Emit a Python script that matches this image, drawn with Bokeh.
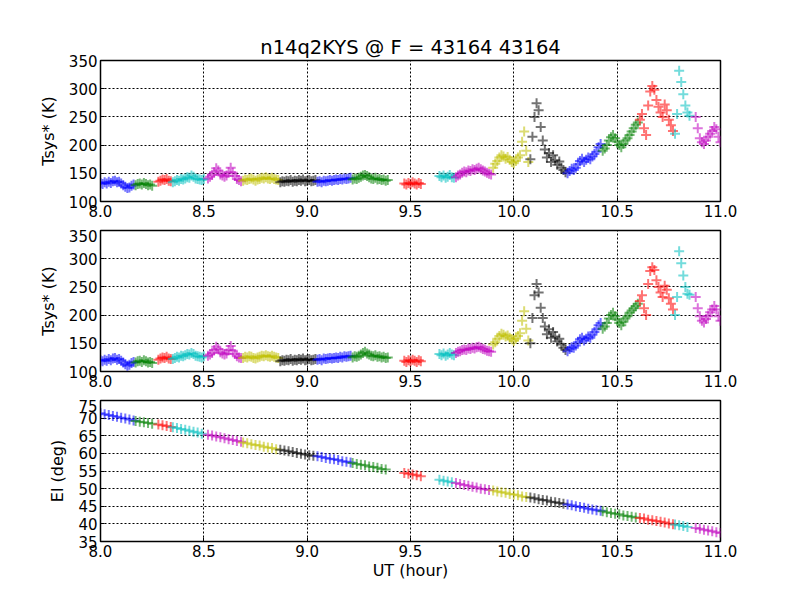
import numpy as np

import bokeh.models
import bokeh.plotting
from bokeh.layouts import column
from bokeh.embed import file_html
from bokeh.resources import INLINE

# matplotlib-classic colour cycle b g r c m y k
seg_colors = ["#0000ff", "#008000", "#ff0000", "#00bfbf", "#bf00bf", "#bfbf00", "#000000",
              "#0000ff", "#008000", "#ff0000", "#00bfbf", "#bf00bf", "#bfbf00", "#000000",
              "#0000ff", "#008000", "#ff0000", "#00bfbf", "#bf00bf"]

# start time (UT hour) of each scan; samples every 0.01 h
seg_starts = [8.00, 8.17, 8.28, 8.35, 8.52, 8.69, 8.87, 9.05, 9.22, 9.47,
              9.64, 9.72, 9.90, 10.08, 10.26, 10.43, 10.61, 10.78, 10.88]
t_step = 0.01

# Tsys* (K), upper panel
tsys_top = [
    [133, 131, 134, 132, 135, 133, 136, 137, 134, 135, 132, 129, 126, 124, 125, 128, 130],
    [129, 131, 132, 130, 133, 131, 129, 130, 128],
    [135, 137, 139, 138, 140, 137, 136],
    [134, 136, 138, 137, 140, 139, 141, 143, 142, 146, 144, 141, 140, 139, 138, 140],
    [141, 144, 147, 152, 159, 155, 148, 146, 144, 146, 152, 160, 151, 145, 140, 138, 136],
    [137, 139, 138, 140, 141, 139, 137, 139, 140, 142, 141, 143, 141, 140, 142, 140, 139, 138],
    [134, 136, 135, 137, 136, 138, 135, 137, 136, 138, 137, 139, 136, 137, 138, 136, 137, 138],
    [135, 136, 134, 137, 136, 137, 138, 137, 138, 139, 138, 140, 139, 141, 140, 141, 142],
    [139, 141, 140, 142, 144, 146, 147, 145, 143, 141, 140, 142, 139, 140, 138, 139, 137, 138],
    [132, 130, 133, 131, 134, 132, 130, 133, 131],
    [145, 143, 146, 142, 144, 147, 143, 142],
    [143, 146, 148, 151, 153, 152, 155, 154, 157, 156, 158, 160, 157, 155, 153, 151, 149, 148],
    [160, 167, 172, 178, 182, 180, 176, 179, 174, 170, 168, 172, 178, 182, 206, 224, 190, 170],
    [175, 215, 250, 274, 262, 232, 208, 192, 178, 186, 170, 182, 173, 165, 171, 160, 156, 152],
    [150, 154, 158, 156, 160, 166, 172, 176, 170, 174, 178, 175, 180, 184, 188, 196, 202],
    [190, 194, 200, 208, 214, 218, 212, 206, 200, 196, 202, 208, 212, 218, 224, 230, 236, 240],
    [245, 255, 230, 218, 270, 295, 305, 298, 280, 268, 258, 250, 272, 262, 245, 235, 225],
    [220, 255, 332, 312, 290, 270, 258, 252],
    [250, 230, 212, 205, 202, 208, 215, 220, 225, 232, 228, 215, 205],
]

# Tsys* (K), middle panel
tsys_mid = [
    [120, 118, 121, 119, 122, 120, 123, 124, 121, 122, 119, 116, 113, 110, 112, 115, 117],
    [116, 118, 119, 117, 120, 118, 116, 117, 115],
    [121, 123, 125, 124, 126, 123, 122],
    [122, 124, 126, 125, 128, 127, 129, 131, 130, 133, 131, 128, 127, 126, 125, 127],
    [128, 130, 133, 138, 144, 140, 134, 132, 130, 132, 138, 145, 137, 131, 127, 125, 124],
    [124, 126, 125, 127, 126, 124, 123, 125, 126, 128, 127, 129, 127, 126, 128, 126, 125, 124],
    [118, 120, 119, 121, 120, 122, 119, 121, 120, 122, 121, 123, 120, 121, 122, 120, 121, 122],
    [121, 122, 120, 123, 122, 123, 124, 123, 124, 125, 124, 126, 125, 127, 126, 127, 128],
    [125, 127, 126, 128, 130, 133, 135, 132, 130, 128, 127, 129, 126, 127, 125, 126, 124, 125],
    [119, 117, 120, 118, 121, 119, 117, 120, 118],
    [131, 129, 132, 128, 130, 133, 130, 129],
    [133, 135, 136, 138, 139, 138, 141, 140, 142, 141, 143, 144, 142, 140, 139, 137, 136, 135],
    [148, 152, 158, 163, 167, 165, 162, 164, 160, 157, 154, 158, 163, 168, 190, 207, 176, 155],
    [150, 195, 235, 255, 240, 213, 195, 180, 166, 175, 160, 170, 162, 153, 158, 148, 142, 138],
    [136, 140, 143, 142, 146, 152, 157, 160, 155, 158, 162, 160, 165, 170, 175, 182, 186],
    [176, 180, 186, 194, 200, 204, 198, 192, 186, 182, 188, 194, 198, 204, 208, 212, 216, 220],
    [225, 235, 212, 200, 255, 278, 285, 280, 262, 250, 240, 232, 252, 245, 230, 220, 210],
    [200, 232, 313, 292, 270, 250, 238, 236],
    [232, 212, 198, 190, 187, 193, 198, 205, 210, 216, 210, 198, 190],
]

# elevation (deg), sampled every 0.02 h from each scan start
el_step = 0.02
el_vals = [
    [71.4, 71.1, 70.9, 70.6, 70.4, 70.1, 69.9, 69.6, 69.3],
    [69.2, 69.0, 68.8, 68.6, 68.4],
    [68.2, 68.0, 67.8, 67.5],
    [67.4, 67.2, 66.9, 66.7, 66.4, 66.1, 65.9, 65.6],
    [65.3, 65.1, 64.8, 64.6, 64.3, 64.0, 63.8, 63.5, 63.3],
    [63.1, 62.9, 62.6, 62.4, 62.2, 61.9, 61.7, 61.5, 61.2],
    [61.0, 60.8, 60.6, 60.4, 60.1, 59.9, 59.7, 59.5, 59.3],
    [59.2, 59.0, 58.7, 58.5, 58.3, 58.1, 57.8, 57.6, 57.4],
    [57.3, 57.0, 56.8, 56.6, 56.3, 56.1, 55.9, 55.6, 55.4],
    [54.4, 54.2, 54.0, 53.8, 53.5],
    [52.5, 52.2, 52.0, 51.8],
    [51.6, 51.3, 51.0, 50.8, 50.5, 50.3, 50.0, 49.8, 49.6],
    [49.5, 49.2, 49.0, 48.8, 48.5, 48.3, 48.1, 47.8, 47.6],
    [47.5, 47.3, 47.0, 46.8, 46.6, 46.3, 46.1, 45.9, 45.7],
    [45.5, 45.3, 45.0, 44.8, 44.6, 44.3, 44.1, 43.9, 43.7],
    [43.6, 43.3, 43.1, 42.9, 42.7, 42.4, 42.2, 42.0, 41.8],
    [41.7, 41.5, 41.2, 41.0, 40.8, 40.6, 40.4, 40.1, 39.9],
    [39.8, 39.6, 39.4, 39.1],
    [38.8, 38.6, 38.3, 38.1, 37.9, 37.6, 37.4],
]

x_ticks = [8.0, 8.5, 9.0, 9.5, 10.0, 10.5, 11.0]
tsys_ticks = [100, 150, 200, 250, 300, 350]
el_ticks = [35, 40, 45, 50, 55, 60, 65, 70, 75]

title_text = "n14q2KYS @ F = 43164 43164"
FONT = "DejaVu Sans"


def build_source(segs, step):
    xs, ys, cs = [], [], []
    for start, vals, col in zip(seg_starts, segs, seg_colors):
        for i, v in enumerate(vals):
            xs.append(start + i * step)
            ys.append(v)
            cs.append(col)
    return bokeh.models.ColumnDataSource(data={"x": xs, "y": ys, "c": cs})


def make_panel(height, top, bottom, yr, yticks, ylabel, xlabel=None, title=None):
    p = bokeh.plotting.figure(width=792, height=height, output_backend="svg",
                              toolbar_location=None,
                              x_range=bokeh.models.Range1d(8.0, 11.0),
                              y_range=bokeh.models.Range1d(*yr),
                              min_border_left=100, min_border_right=72,
                              min_border_top=top, min_border_bottom=bottom)
    if title:
        p.title.text = title
        p.title.align = "center"
        p.title.text_font = FONT
        p.title.text_font_size = "19.5px"
        p.title.text_font_style = "normal"
        p.title.text_color = "black"
        p.title.standoff = 3
    p.outline_line_color = "black"
    p.outline_line_width = 1.5
    p.background_fill_color = "white"
    p.border_fill_color = "white"

    p.xaxis.ticker = bokeh.models.FixedTicker(ticks=x_ticks)
    p.xaxis.formatter = bokeh.models.PrintfTickFormatter(format="%.1f")
    p.yaxis.ticker = bokeh.models.FixedTicker(ticks=yticks)
    p.yaxis.formatter = bokeh.models.PrintfTickFormatter(format="%d")
    for ax in (p.xaxis, p.yaxis):
        ax.major_tick_in = 4
        ax.major_tick_out = 0
        ax.minor_tick_line_color = None
        ax.axis_line_color = "black"
        ax.major_label_text_font = FONT
        ax.major_label_text_font_size = "15px"
        ax.major_label_text_color = "black"
        ax.major_label_standoff = 3
        ax.axis_label_text_font = FONT
        ax.axis_label_text_font_size = "16px"
        ax.axis_label_text_font_style = "normal"
        ax.axis_label_text_color = "black"
    p.yaxis.axis_label = ylabel
    p.yaxis.axis_label_standoff = 8
    if xlabel:
        p.xaxis.axis_label = xlabel
        p.xaxis.axis_label_standoff = 1

    p.xgrid.ticker = bokeh.models.FixedTicker(ticks=x_ticks)
    p.ygrid.ticker = bokeh.models.FixedTicker(ticks=yticks)
    for g in (p.xgrid, p.ygrid):
        g.grid_line_color = "black"
        g.grid_line_dash = "2 2"
        g.grid_line_width = 1
    return p


p1 = make_panel(229, 60, 28, (100, 350), tsys_ticks, "Tsys* (K)", title=title_text)
p2 = make_panel(170, 1, 28, (100, 350), tsys_ticks, "Tsys* (K)")
p3 = make_panel(196, 1, 54, (35, 75), el_ticks, "El (deg)", xlabel="UT (hour)")

for p, segs, step in ((p1, tsys_top, t_step), (p2, tsys_mid, t_step), (p3, el_vals, el_step)):
    src = build_source(segs, step)
    p.scatter("x", "y", source=src, marker="cross", size=10, line_color="c",
              line_width=2, line_alpha=0.55)

layout = column(p1, p2, p3)
open("out.html", "w").write(file_html(layout, INLINE))
